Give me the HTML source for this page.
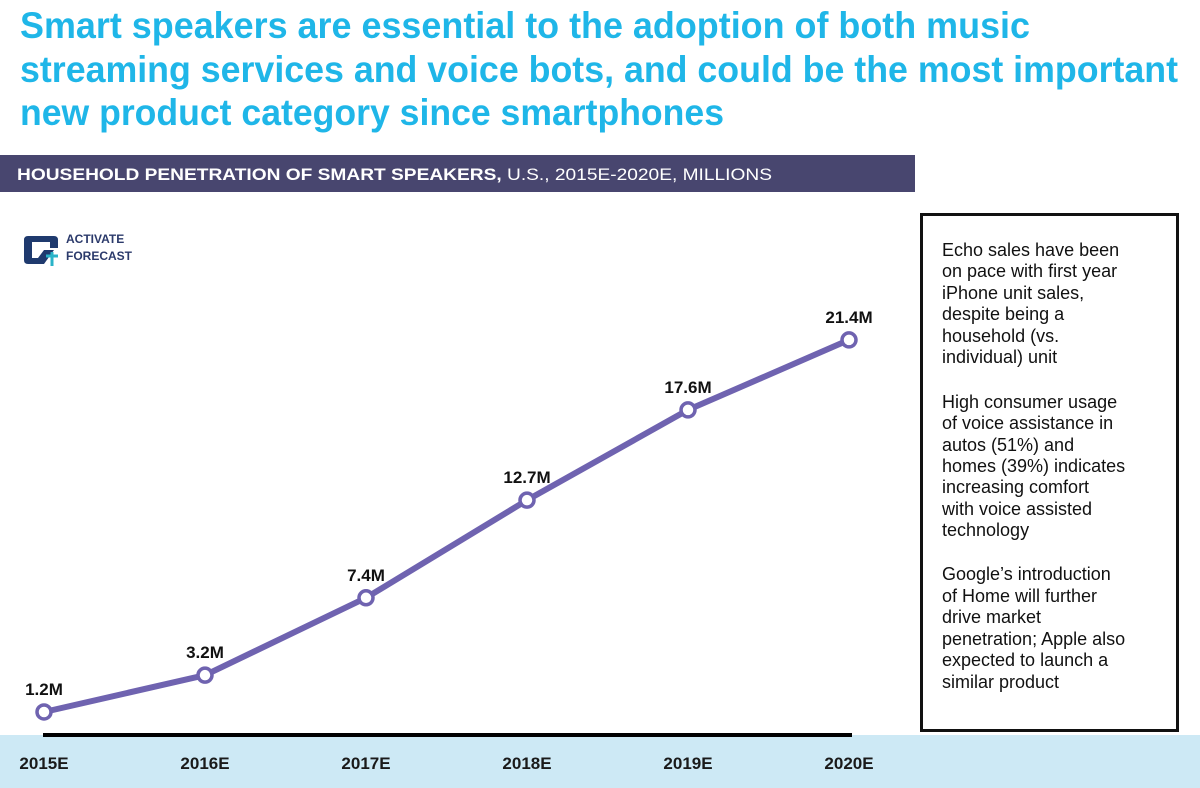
<!DOCTYPE html>
<html><head><meta charset="utf-8"><style>
html,body{margin:0;padding:0;background:#fff;}
svg{display:block;font-family:"Liberation Sans",Arial,sans-serif;}
</style></head><body>
<svg width="1200" height="788" viewBox="0 0 1200 788">
<g fill="#1fb6e8" font-weight="bold" font-size="37">
<text x="20" y="38" textLength="1010" lengthAdjust="spacingAndGlyphs">Smart speakers are essential to the adoption of both music</text>
<text x="20" y="82" textLength="1158" lengthAdjust="spacingAndGlyphs">streaming services and voice bots, and could be the most important</text>
<text x="20" y="125" textLength="704" lengthAdjust="spacingAndGlyphs">new product category since smartphones</text>
</g>
<rect x="0" y="155" width="915" height="37" fill="#48466f"/>
<text x="17" y="180" fill="#fff" font-size="17" textLength="755" lengthAdjust="spacingAndGlyphs"><tspan font-weight="bold">HOUSEHOLD PENETRATION OF SMART SPEAKERS,</tspan> U.S., 2015E-2020E, MILLIONS</text>
<g>
<path d="M28 236 h26 q4 0 4 4 v8 l-8 0 v-6 h-18 v16 h6 l6 -8 h10 l-10 14 h-16 q-4 0 -4 -4 v-20 q0 -4 4 -4z" fill="#1f3a6e"/>
<path d="M52 252 v14 M46 256 h12" stroke="#2ab3c8" stroke-width="3"/>
<text x="66" y="243" font-size="12" font-weight="bold" fill="#2b3a6b">ACTIVATE</text>
<text x="66" y="260" font-size="12" font-weight="bold" fill="#2b3a6b">FORECAST</text>
</g>
<rect x="0" y="735" width="1200" height="53" fill="#cde9f5"/>
<line x1="43" y1="735" x2="852" y2="735" stroke="#000" stroke-width="4"/>
<g id="plot"></g>
<rect x="921.5" y="214.5" width="256" height="516" fill="#fff" stroke="#111" stroke-width="3"/>
<g font-size="18" fill="#111">
<text x="942" y="256">Echo sales have been</text>
<text x="942" y="277">on pace with first year</text>
<text x="942" y="299">iPhone unit sales,</text>
<text x="942" y="320">despite being a</text>
<text x="942" y="342">household (vs.</text>
<text x="942" y="363">individual) unit</text>
<text x="942" y="408">High consumer usage</text>
<text x="942" y="429">of voice assistance in</text>
<text x="942" y="451">autos (51%) and</text>
<text x="942" y="472">homes (39%) indicates</text>
<text x="942" y="493">increasing comfort</text>
<text x="942" y="515">with voice assisted</text>
<text x="942" y="536">technology</text>
<text x="942" y="580">Google’s introduction</text>
<text x="942" y="602">of Home will further</text>
<text x="942" y="623">drive market</text>
<text x="942" y="645">penetration; Apple also</text>
<text x="942" y="666">expected to launch a</text>
<text x="942" y="688">similar product</text>
</g>
</svg>
<script>
const categories = ["2015E","2016E","2017E","2018E","2019E","2020E"];
const values = [1.2,3.2,7.4,12.7,17.6,21.4];
const valueLabels = ["1.2M","3.2M","7.4M","12.7M","17.6M","21.4M"];
const NS="http://www.w3.org/2000/svg";
function xScale(i){return 44 + i*161;}
function yScale(v){return 734.1 - v*18.42;}
const g=document.getElementById('plot');
let d="";
values.forEach((v,i)=>{d+=(i?"L":"M")+xScale(i)+" "+yScale(v);});
const line=document.createElementNS(NS,'path');
line.setAttribute('d',d);line.setAttribute('fill','none');line.setAttribute('stroke','#6f63b0');line.setAttribute('stroke-width','6');line.setAttribute('stroke-linejoin','round');


g.appendChild(line);
values.forEach((v,i)=>{
  const c=document.createElementNS(NS,'circle');
  c.setAttribute('cx',xScale(i));c.setAttribute('cy',yScale(v));c.setAttribute('r','7');
  c.setAttribute('fill','#fff');c.setAttribute('stroke','#6f63b0');c.setAttribute('stroke-width','3.5');
  
  
  g.appendChild(c);
  const t=document.createElementNS(NS,'text');
  t.setAttribute('x',xScale(i));t.setAttribute('y',yScale(v)-17);t.setAttribute('text-anchor','middle');
  t.setAttribute('font-size','17');t.setAttribute('font-weight','bold');t.setAttribute('fill','#111');
  t.textContent=valueLabels[i];
  
  
  g.appendChild(t);
  const a=document.createElementNS(NS,'text');
  a.setAttribute('x',xScale(i));a.setAttribute('y',769);a.setAttribute('text-anchor','middle');
  a.setAttribute('font-size','17');a.setAttribute('font-weight','bold');a.setAttribute('fill','#1a1a1a');
  a.textContent=categories[i];
  
  
  g.appendChild(a);
});
</script>
</body></html>
